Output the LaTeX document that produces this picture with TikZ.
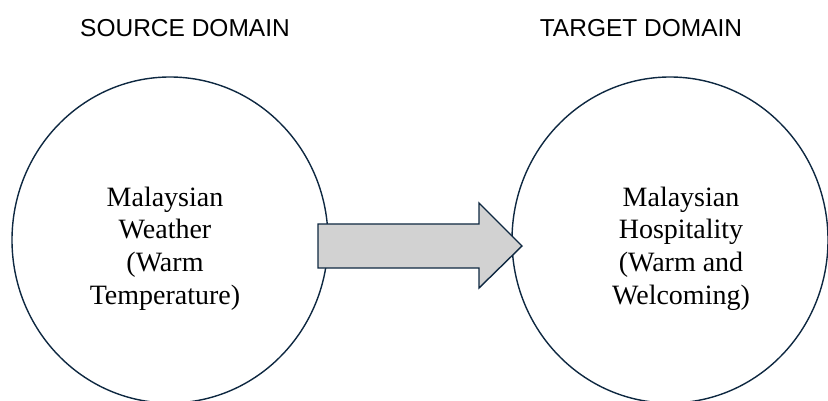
\documentclass[tikz,border=0pt]{standalone}
\usepackage{fontspec}
\setmainfont{Liberation Serif}
\newfontfamily\titlefont{Liberation Sans}
\usepackage{tikz}
\usetikzlibrary{shapes.geometric, positioning, calc}
\definecolor{colorLine}{RGB}{14, 40, 65}
\definecolor{colorArrow}{RGB}{210, 210, 210}
\tikzstyle{domainCircle} = [ellipse, draw=colorLine, line width=1.4pt, minimum width=316pt, minimum height=326pt, inner sep=0pt]
\tikzstyle{heading} = [font=\titlefont\fontsize{24.5}{28}\selectfont, inner sep=0pt]
\tikzstyle{concept} = [font=\fontsize{28}{32.7}\selectfont, align=center, inner sep=0pt]
\tikzstyle{bigarrow} = [draw=colorLine, line width=1.4pt, fill=colorArrow, line join=miter]

\begin{document}
\begin{tikzpicture}[x=1pt, y=-1pt]

		\useasboundingbox (0,0) rectangle (828,401);

		% circles
		\node (source)[domainCircle] at (170,240) {};
		\node (target)[domainCircle] at (670,240) {};

		% headings
		\node (sTitle)[heading] at (185,28) {SOURCE DOMAIN};
		\node (tTitle)[heading] at (641,28) {TARGET DOMAIN};

		% texts inside
		\node (sText)[concept, xshift=-5pt, yshift=-8.5pt] at (source) {Malaysian\\Weather\\(Warm\\Temperature)};
		\node (tText)[concept, xshift=11pt, yshift=-8.5pt] at (target) {Malaysian\\Hospitality\\(Warm and\\Welcoming)};

		% block arrow
		\coordinate (aStart) at (318,246);
		\coordinate (aTip) at (522,246);
		\draw[bigarrow] ($(aStart)+(0,-22)$) -- (479,224) -- (479,203) -- (aTip)
			-- (479,288) -- (479,268) -- ($(aStart)+(0,22)$) -- cycle;

	\end{tikzpicture}
\end{document}
